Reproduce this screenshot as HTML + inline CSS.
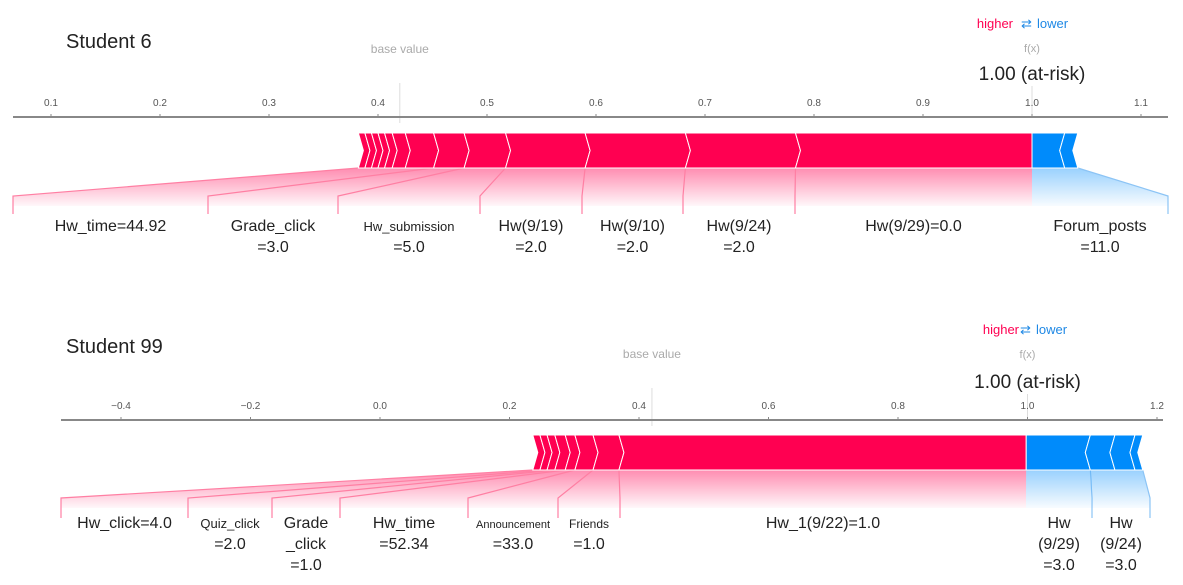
<!DOCTYPE html>
<html><head><meta charset="utf-8">
<style>
body{margin:0;background:#fff;}
svg{display:block;font-family:"Liberation Sans",sans-serif;}
</style></head>
<body>
<svg id="chart" width="1183" height="585" viewBox="0 0 1183 585">
<defs>
<linearGradient id="gp" x1="0" y1="0" x2="0" y2="1"><stop offset="0" stop-color="#ff0051" stop-opacity="0.45"/><stop offset="1" stop-color="#ff0051" stop-opacity="0.03"/></linearGradient>
<linearGradient id="gb" x1="0" y1="0" x2="0" y2="1"><stop offset="0" stop-color="#008bfb" stop-opacity="0.4"/><stop offset="1" stop-color="#008bfb" stop-opacity="0.03"/></linearGradient>
</defs>
<text x="66" y="48" font-size="20" fill="#222">Student 6</text>
<text x="66" y="353" font-size="20" fill="#222">Student 99</text>
</svg>
<script>
// ---- data: Student 6 ----
const p1Ticks = [0.1,0.2,0.3,0.4,0.5,0.6,0.7,0.8,0.9,1.0,1.1];
const p1TickLabels = ["0.1","0.2","0.3","0.4","0.5","0.6","0.7","0.8","0.9","1.0","1.1"];
const p1Base = 0.42;
const p1Fx = 1.0;
const p1RedBounds = [0.382,0.388,0.394,0.400,0.406,0.413,0.425,0.451,0.479,0.517,0.590,0.682,0.783,1.0];
const p1BlueBounds = [1.0,1.03,1.042];
const p1Features = ["Hw_time=44.92","Grade_click|=3.0","Hw_submission|=5.0","Hw(9/19)|=2.0","Hw(9/10)|=2.0","Hw(9/24)|=2.0","Hw(9/29)=0.0","Forum_posts|=11.0"];
const p1FeatStart = [0.382,0.451,0.479,0.517,0.590,0.682,0.783,1.0];
const p1FeatEnd = [0.451,0.479,0.517,0.590,0.682,0.783,1.0,1.042];
const p1FeatSign = [1,1,1,1,1,1,1,-1];
// ---- data: Student 99 ----
const p2Ticks = [-0.4,-0.2,0.0,0.2,0.4,0.6,0.8,1.0,1.2];
const p2TickLabels = ["\u22120.4","\u22120.2","0.0","0.2","0.4","0.6","0.8","1.0","1.2"];
const p2Base = 0.42;
const p2Fx = 1.0;
const p2RedBounds = [0.236,0.247,0.258,0.270,0.286,0.301,0.329,0.369,0.998];
const p2BlueBounds = [0.998,1.097,1.135,1.166,1.178];
const p2Features = ["Hw_click=4.0","Quiz_click|=2.0","Grade|_click|=1.0","Hw_time|=52.34","Announcement|=33.0","Friends|=1.0","Hw_1(9/22)=1.0","Hw|(9/29)|=3.0","Hw|(9/24)|=3.0"];
const p2FeatStart = [0.236,0.258,0.270,0.286,0.301,0.329,0.369,0.998,1.097];
const p2FeatEnd = [0.258,0.270,0.286,0.301,0.329,0.369,0.998,1.097,1.178];
const p2FeatSign = [1,1,1,1,1,1,1,-1,-1];

const svg = document.getElementById('chart');
const NS = 'http://www.w3.org/2000/svg';
function mk(tag, attrs, txt){const e=document.createElementNS(NS,tag);for(const k in attrs)e.setAttribute(k,attrs[k]);if(txt!==undefined)e.textContent=txt;svg.appendChild(e);return e;}

function drawPanel(o){
  const X = v => o.x0 + (v - o.v0) * o.k;
  const nm = o.name;
  let t = mk('text',{x:o.legX,y:o.legY,'font-size':13,fill:'#ff0051','text-anchor':'end'},'higher');
   
  t = mk('text',{x:o.legX+o.legGap,y:o.legY,'font-size':13,fill:'#1e88e5'},'\u21C4');
   
  t = mk('text',{x:o.legX+o.legGap+16,y:o.legY,'font-size':13,fill:'#1e88e5'},'lower');
   
  t = mk('text',{x:X(o.fx),y:o.fxY,'font-size':11,fill:'#aaa','text-anchor':'middle'},'f(x)');
   
  t = mk('text',{x:X(o.fx),y:o.fxValY,'font-size':19,fill:'#222','text-anchor':'middle'},'1.00 (at-risk)');
   
  t = mk('text',{x:X(o.base),y:o.baseY,'font-size':12,fill:'#aaa','text-anchor':'middle'},'base value');
   
  let l = mk('line',{x1:X(o.base),x2:X(o.base),y1:o.baseY+30,y2:o.axisY+6,stroke:'#ddd','stroke-width':1});
   
  l = mk('line',{x1:X(o.fx),x2:X(o.fx),y1:o.fxValY+6,y2:o.axisY,stroke:'#ddd','stroke-width':1});
   
  l = mk('line',{x1:o.axL,x2:o.axR,y1:o.axisY,y2:o.axisY,stroke:'#888','stroke-width':2});
   
  o.ticks.forEach((v,i)=>{
    const tk = mk('line',{x1:X(v),x2:X(v),y1:o.axisY-3,y2:o.axisY+1,stroke:'#888'});
     
    const tl = mk('text',{x:X(v),y:o.axisY-11,'font-size':10,fill:'#555','text-anchor':'middle'},o.tickLabels[i]);
     
  });
  const top=o.barTop, bot=o.barBot, mid=(top+bot)/2, ch=5;
  const shadeBot = bot + o.shadeH;
  o.feats.forEach((f,i)=>{
    const s0=X(o.fs[i]), s1=X(o.fe[i]), L0=o.lx[i], L1=o.lx[i+1];
    const pos = o.sign[i]>0;
    const p = mk('polygon',{points:`${s0},${bot} ${s1},${bot} ${L1},${shadeBot-10} ${L1},${shadeBot} ${L0},${shadeBot} ${L0},${shadeBot-10}`,fill:pos?'url(#gp)':'url(#gb)'});
     
    const c = pos?'#ff7fa3':'#8cc4f5';
    const ln = mk('polyline',{points:`${pos?s0:s1},${bot} ${pos?L0:L1},${shadeBot-10} ${pos?L0:L1},${shadeBot+o.lineExt}`,fill:'none',stroke:c,'stroke-width':1.2});
     
    const lines=f.split('|');
    const cx=(L0+L1)/2;
    lines.forEach((s,j)=>{
      let fs = o.fsz;
      if(j===0){
        if(s==='Hw_submission') fs=13;
        else if(s==='Announcement') fs=11;
        else if(s==='Friends') fs=12;
        else if(s==='Quiz_click') fs=13;
      }
      const tt = mk('text',{x:cx,y:o.labY+j*o.labDy,'font-size':fs,fill:'#222','text-anchor':'middle'},s);
       
    });
  });
  const rb=o.red;
  for(let i=0;i<rb.length-1;i++){
    const a=X(rb[i]), b=X(rb[i+1]);
    const last = i===rb.length-2;
    const pts = last ? `${a},${top} ${b},${top} ${b},${bot} ${a},${bot} ${a+ch},${mid}`
                     : `${a},${top} ${b},${top} ${b+ch},${mid} ${b},${bot} ${a},${bot} ${a+ch},${mid}`;
    const pg = mk('polygon',{points:pts,fill:'#ff0051',stroke:'#fff','stroke-width':1});
     
  }
  const bb=o.blue;
  for(let i=0;i<bb.length-1;i++){
    const a=X(bb[i]), b=X(bb[i+1]);
    const pts = i===0 ? `${a},${top} ${b},${top} ${b-ch},${mid} ${b},${bot} ${a},${bot}`
                      : `${a-ch},${mid} ${a},${top} ${b},${top} ${b-ch},${mid} ${b},${bot} ${a},${bot}`;
    const pg = mk('polygon',{points:pts,fill:'#008bfb',stroke:'#fff','stroke-width':1});
     
  }
}

drawPanel({name:'student-6',x0:51,v0:0.1,k:1090,axL:13,axR:1168,axisY:117,barTop:133,barBot:168,
  ticks:p1Ticks,tickLabels:p1TickLabels,base:p1Base,fx:p1Fx,red:p1RedBounds,blue:p1BlueBounds,
  feats:p1Features,fs:p1FeatStart,fe:p1FeatEnd,sign:p1FeatSign,
  lx:[13,208,338,480,582,683,795,1032,1168],shadeH:38,lineExt:8,labY:231,labDy:21,fsz:16,
  legX:1013,legGap:8,legY:28,fxY:52,fxValY:80,baseY:53});
drawPanel({name:'student-99',x0:380,v0:0,k:647.5,axL:61,axR:1163,axisY:420,barTop:435,barBot:470,
  ticks:p2Ticks,tickLabels:p2TickLabels,base:p2Base,fx:p2Fx,red:p2RedBounds,blue:p2BlueBounds,
  feats:p2Features,fs:p2FeatStart,fe:p2FeatEnd,sign:p2FeatSign,
  lx:[61,188,272,340,468,558,620,1026,1092,1150],shadeH:38,lineExt:10,labY:528,labDy:21,fsz:16,
  legX:1019,legGap:1,legY:334,fxY:358,fxValY:388,baseY:358});
</script>
</body></html>
